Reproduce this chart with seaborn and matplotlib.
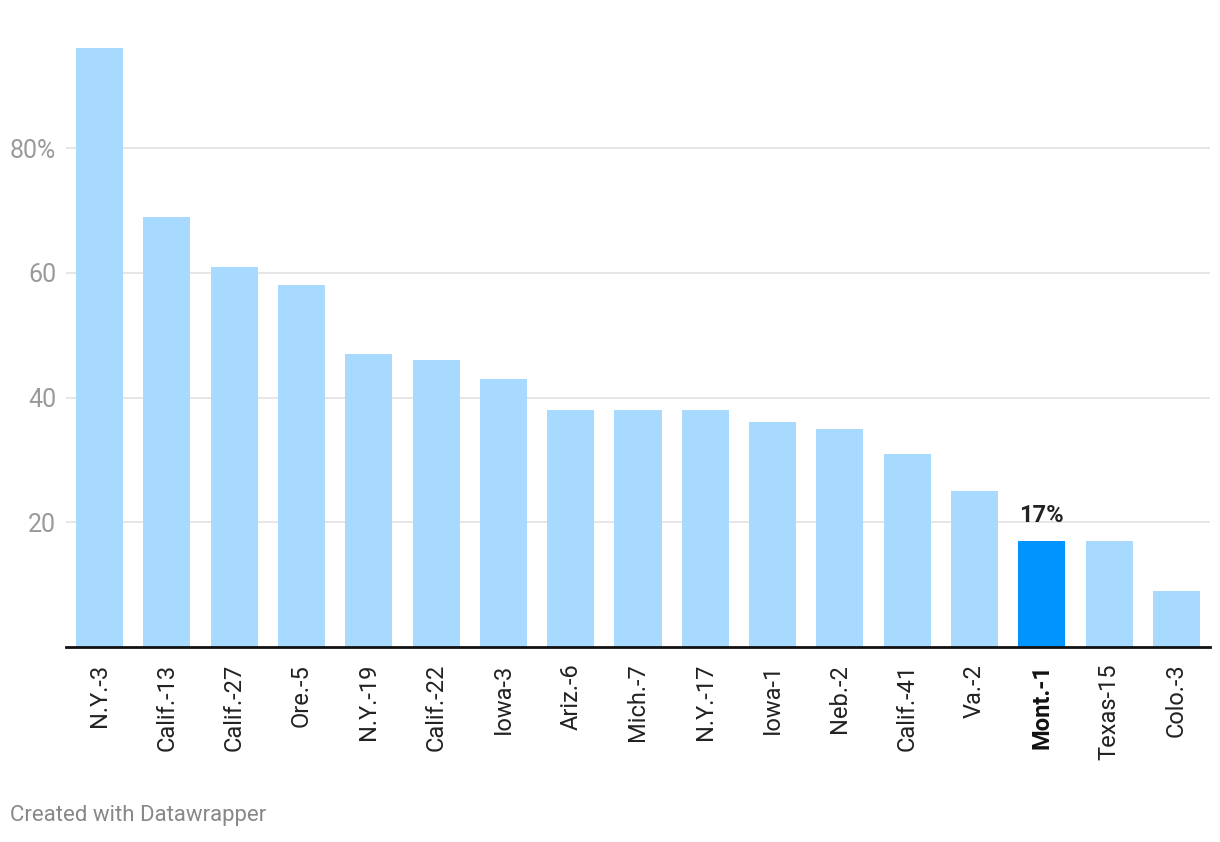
import matplotlib
matplotlib.use("Agg")
import matplotlib.pyplot as plt
import seaborn as sns
import pandas as pd

districts = ["N.Y.-3", "Calif.-13", "Calif.-27", "Ore.-5", "N.Y.-19", "Calif.-22",
             "Iowa-3", "Ariz.-6", "Mich.-7", "N.Y.-17", "Iowa-1", "Neb.-2",
             "Calif.-41", "Va.-2", "Mont.-1", "Texas-15", "Colo.-3"]
values = [96, 69, 61, 58, 47, 46, 43, 38, 38, 38, 36, 35, 31, 25, 17, 17, 9]
highlight = "Mont.-1"
y_ticks = [20, 40, 60, 80]
y_tick_labels = ["20", "40", "60", "80%"]

sns.set_theme(style="white")
plt.rcParams['font.family'] = ['Roboto', 'DejaVu Sans']

df = pd.DataFrame({"district": districts, "value": values})
light, dark = "#a8d9ff", "#0094ff"
palette = {d: (dark if d == highlight else light) for d in districts}

fig = plt.figure(figsize=(12.2, 8.42), dpi=100)
ax = fig.add_axes([66 / 1220, 1 - 647 / 842, (1210 - 66) / 1220, (647 - 42) / 842])

sns.barplot(data=df, x="district", y="value", hue="district", palette=palette,
            legend=False, width=0.70, ax=ax, saturation=1, linewidth=0)

ax.set_xlim(-0.5, len(districts) - 0.5)
ax.set_ylim(0, 97)
ax.set_yticks(y_ticks)
ax.set_yticklabels(y_tick_labels)
ax.yaxis.grid(True, color="#e2e2e2", linewidth=1.2)
ax.set_axisbelow(True)
for s in ["top", "right", "left"]:
    ax.spines[s].set_visible(False)
ax.spines["bottom"].set_color("#111111")
ax.spines["bottom"].set_linewidth(2)
ax.set_xlabel("")
ax.set_ylabel("")
ax.tick_params(axis="y", length=0, pad=7, labelsize=18, labelcolor="#9a9a9a")
ax.tick_params(axis="x", length=0, pad=12, labelsize=17, labelcolor="#222222")
for lab in ax.get_xticklabels():
    lab.set_rotation(90)
    lab.set_ha("center")
    lab.set_va("top")
    if lab.get_text() == highlight:
        lab.set_fontweight("bold")
        lab.set_color("#111111")

hi = districts.index(highlight)
ax.text(hi, values[hi] + 2.2, f"{values[hi]}%", ha="center", va="bottom",
        fontsize=17, fontweight="bold", color="#222222")

fig.text(10 / 1220, 1 - 816 / 842, "Created with Datawrapper", ha="left", va="center",
         fontsize=16, color="#888888")

fig.savefig("out.png", dpi=100, facecolor="white")
